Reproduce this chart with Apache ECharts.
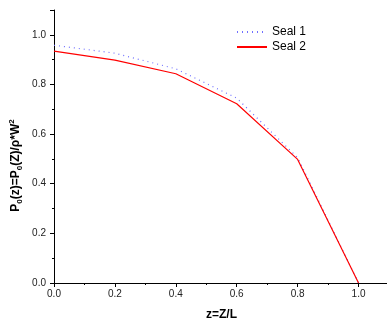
<!DOCTYPE html>
<html>
<head>
<meta charset="utf-8">
<script src="https://cdn.jsdelivr.net/npm/echarts@6/dist/echarts.min.js"></script>
<style>
html, body { margin: 0; padding: 0; background: #fff; }
#echart { width: 387px; height: 325px; }
</style>
</head>
<body>
<div id="echart"></div>
<script>
var zValues = [0.0, 0.2, 0.4, 0.6, 0.8, 1.0];
var seal1 = [0.958, 0.926, 0.863, 0.745, 0.505, 0.0];
var seal2 = [0.934, 0.898, 0.843, 0.722, 0.498, 0.0];
var seriesNames = ['Seal 1', 'Seal 2'];

function pairs(xs, ys) {
    var out = [];
    for (var i = 0; i < xs.length; i++) {
        out.push([xs[i], ys[i]]);
    }
    return out;
}

var myChart = echarts.init(document.getElementById('echart'));
var font = 'Liberation Sans, Arial, sans-serif';
var option = {
    animation: false,
    backgroundColor: '#fff',
    textStyle: { fontFamily: font },
    grid: { left: 54, right: -2, top: 10, bottom: 42, outerBoundsMode: 'none', containLabel: false },
    legend: {
        left: 231,
        top: 21,
        orient: 'vertical',
        itemWidth: 30,
        itemHeight: 10,
        itemGap: 3,
        itemStyle: { opacity: 0 },
        textStyle: { fontFamily: font, fontSize: 12, color: '#000' },
        data: seriesNames
    },
    xAxis: {
        type: 'value',
        min: 0,
        max: 1.1,
        interval: 0.2,
        name: 'z=Z/L',
        nameLocation: 'middle',
        nameGap: 26,
        nameTextStyle: { fontFamily: font, fontSize: 12, fontWeight: 'bold', color: '#000' },
        axisLine: { lineStyle: { color: '#000', width: 1 } },
        axisTick: { inside: false, length: 4, lineStyle: { color: '#000' } },
        minorTick: { show: true, splitNumber: 2, length: 2, lineStyle: { color: '#000' } },
        axisLabel: {
            fontSize: 10, color: '#222', margin: 6,
            formatter: function (v) { return v > 1.05 ? '' : v.toFixed(1); }
        },
        splitLine: { show: false }
    },
    yAxis: {
        type: 'value',
        min: 0,
        max: 1.1,
        interval: 0.2,
        name: '{b|P}{s|0}{b|(z)=P}{s|0}{b|(Z)/ρ*W}{p|2}',
        nameLocation: 'middle',
        nameRotate: 90,
        nameGap: 30,
        nameMoveOverlap: false,
        nameTextStyle: {
            fontFamily: font,
            padding: [0, 38, 0, 0],
            rich: {
                b: { fontFamily: font, fontSize: 12, fontWeight: 'bold', color: '#000', lineHeight: 16 },
                s: { fontFamily: font, fontSize: 8, fontWeight: 'bold', color: '#000', lineHeight: 8, verticalAlign: 'bottom' },
                p: { fontFamily: font, fontSize: 8, fontWeight: 'bold', color: '#000', lineHeight: 8, verticalAlign: 'top' }
            }
        },
        axisLine: { show: true, lineStyle: { color: '#000', width: 1 } },
        axisTick: { show: true, inside: false, length: 4, lineStyle: { color: '#000' } },
        minorTick: { show: true, splitNumber: 2, length: 2, lineStyle: { color: '#000' } },
        axisLabel: {
            fontSize: 10, color: '#222', margin: 8,
            formatter: function (v) { return v > 1.05 ? '' : v.toFixed(1); }
        },
        splitLine: { show: false }
    },
    series: [
        {
            name: seriesNames[0],
            type: 'line',
            symbol: 'none',
            data: pairs(zValues, seal1),
            itemStyle: { color: '#7070ff' },
            lineStyle: { color: '#7070ff', width: 1.2, type: [1, 4] },
            z: 2
        },
        {
            name: seriesNames[1],
            type: 'line',
            symbol: 'none',
            data: pairs(zValues, seal2),
            itemStyle: { color: '#ff0000' },
            lineStyle: { color: '#ff0000', width: 1.2, type: 'solid' },
            z: 3
        }
    ]
};
myChart.setOption(option);
</script>
</body>
</html>
